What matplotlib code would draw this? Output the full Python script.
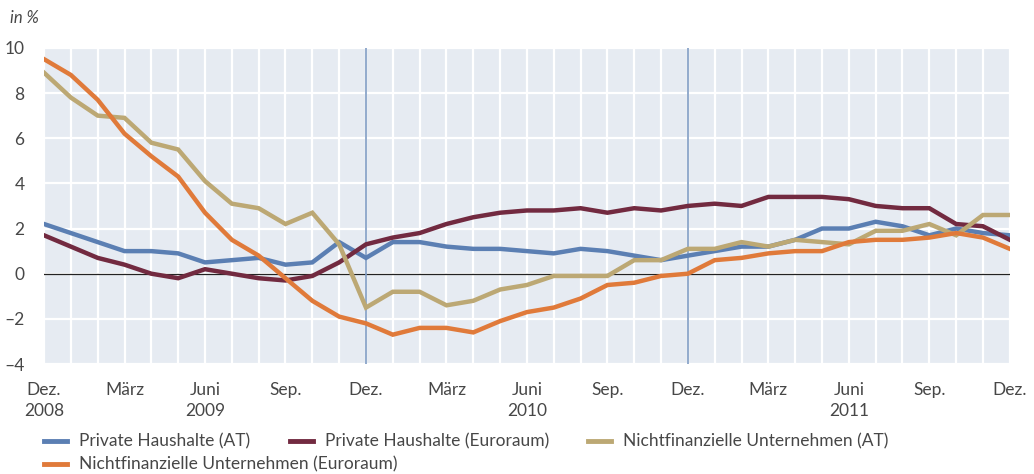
import matplotlib
matplotlib.use("Agg")
import matplotlib.pyplot as plt
from matplotlib.lines import Line2D
import numpy as np

# monthly values, Dez. 2008 .. Dez. 2011
months = np.arange(37)
tick_pos = [0, 3, 6, 9, 12, 15, 18, 21, 24, 27, 30, 33, 36]
tick_labels = ["Dez.\n2008", "März", "Juni\n2009", "Sep.", "Dez.", "März", "Juni\n2010",
               "Sep.", "Dez.", "März", "Juni\n2011", "Sep.", "Dez."]

ph_at = [2.2, 1.8, 1.4, 1.0, 1.0, 0.9, 0.5, 0.6, 0.7, 0.4, 0.5, 1.4,
         0.7, 1.4, 1.4, 1.2, 1.1, 1.1, 1.0, 0.9, 1.1, 1.0, 0.8, 0.6,
         0.8, 1.0, 1.2, 1.2, 1.5, 2.0, 2.0, 2.3, 2.1, 1.7, 2.0, 1.8, 1.7]
ph_euro = [1.7, 1.2, 0.7, 0.4, 0.0, -0.2, 0.2, 0.0, -0.2, -0.3, -0.1, 0.5,
           1.3, 1.6, 1.8, 2.2, 2.5, 2.7, 2.8, 2.8, 2.9, 2.7, 2.9, 2.8,
           3.0, 3.1, 3.0, 3.4, 3.4, 3.4, 3.3, 3.0, 2.9, 2.9, 2.2, 2.1, 1.5]
nfu_at = [8.9, 7.8, 7.0, 6.9, 5.8, 5.5, 4.1, 3.1, 2.9, 2.2, 2.7, 1.3,
          -1.5, -0.8, -0.8, -1.4, -1.2, -0.7, -0.5, -0.1, -0.1, -0.1, 0.6, 0.6,
          1.1, 1.1, 1.4, 1.2, 1.5, 1.4, 1.3, 1.9, 1.9, 2.2, 1.7, 2.6, 2.6]
nfu_euro = [9.5, 8.8, 7.7, 6.2, 5.2, 4.3, 2.7, 1.5, 0.8, -0.2, -1.2, -1.9,
            -2.2, -2.7, -2.4, -2.4, -2.6, -2.1, -1.7, -1.5, -1.1, -0.5, -0.4, -0.1,
            0.0, 0.6, 0.7, 0.9, 1.0, 1.0, 1.4, 1.5, 1.5, 1.6, 1.8, 1.6, 1.1]

names = ["Private Haushalte (AT)", "Private Haushalte (Euroraum)",
         "Nichtfinanzielle Unternehmen (AT)", "Nichtfinanzielle Unternehmen (Euroraum)"]
colors = ["#5b7fb3", "#722a40", "#bca874", "#e07a3a"]
series = [ph_at, ph_euro, nfu_at, nfu_euro]

plt.rcParams["font.family"] = ["Lato", "DejaVu Sans"]
txt = "#474747"

fig = plt.figure(figsize=(10.34, 4.74), dpi=100)
ax = fig.add_axes([0.0426, 0.232, 0.934, 0.667])
ax.set_facecolor("#e6ebf2")

ax.set_xlim(0, 36)
ax.set_ylim(-4, 10)
ax.set_xticks(months, minor=True)
ax.set_xticks(tick_pos)
ax.set_xticklabels(tick_labels, fontsize=12.5, color=txt, linespacing=1.35)
ax.set_yticks(np.arange(-4, 11, 2))
ax.set_yticklabels(["\u20134", "\u20132", "0", "2", "4", "6", "8", "10"], fontsize=12.5, color=txt)
ax.tick_params(which="both", length=0)
ax.tick_params(axis="x", pad=13)
ax.tick_params(axis="y", pad=14)
ax.grid(True, which="both", axis="x", color="white", lw=1.6)
ax.grid(True, which="major", axis="y", color="white", lw=1.6)
ax.set_axisbelow(True)
for s in ax.spines.values():
    s.set_visible(False)

ax.axhline(0, color="#222222", lw=0.9, zorder=2)
for xv in (12, 24):
    ax.axvline(xv, color="#7f9cc4", lw=1.2, zorder=2)

for vals, c in zip(series, colors):
    ax.plot(months, vals, color=c, lw=3.2, solid_joinstyle="miter", zorder=3)

fig.text(0.01, 0.962, "in %", fontsize=12, style="italic", color=txt, va="center")

# legend drawn by hand to match the reference layout
W, H = 1034, 474
legend_pos = [(44, 441), (290, 441), (588, 441), (44, 464)]
for (px, py), name, c in zip(legend_pos, names, colors):
    yf = 1 - py / H
    fig.add_artist(Line2D([px / W, (px + 23) / W], [yf, yf], color=c, lw=3.5))
    fig.text((px + 35) / W, yf, name, fontsize=12.5, color=txt, va="center")

fig.savefig("out.png", dpi=100)
